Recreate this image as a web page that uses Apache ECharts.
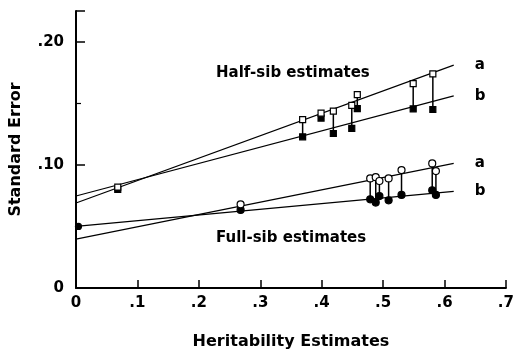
<!DOCTYPE html>
<html>
<head>
<meta charset="utf-8">
<script src="https://cdn.jsdelivr.net/npm/echarts@6/dist/echarts.min.js"></script>
<style>
  html, body { margin: 0; padding: 0; background: #fff; }
  #chart { width: 517px; height: 355px; }
</style>
</head>
<body>
<div id="chart"></div>
<script>
///////////////////////////////////////////////////
// Data
///////////////////////////////////////////////////
var xTicks = ['0', '.1', '.2', '.3', '.4', '.5', '.6', '.7'];
var yTicks = { 0: '0', 10: '.10', 20: '.20' };

// regression lines: [h, SE] at both ends
var halfLineA = [[0, 0.069], [0.615, 0.181]];
var halfLineB = [[0, 0.0747], [0.615, 0.156]];
var fullLineA = [[0, 0.0397], [0.615, 0.1012]];
var fullLineB = [[0, 0.050], [0.615, 0.0785]];

// half-sib estimates: heritability, SE (a), SE (b)
var halfH = [0.068, 0.369, 0.399, 0.419, 0.449, 0.458, 0.549, 0.581];
var halfA = [0.082, 0.1368, 0.142, 0.1436, 0.1484, 0.157, 0.166, 0.174];
var halfB = [0.080, 0.1228, 0.138, 0.1255, 0.1296, 0.1457, 0.1455, 0.145];

// full-sib estimates
var fullH = [0.268, 0.479, 0.488, 0.494, 0.509, 0.53, 0.58, 0.586];
var fullA = [0.068, 0.089, 0.090, 0.0869, 0.089, 0.0958, 0.1012, 0.095];
var fullB = [0.0634, 0.072, 0.0694, 0.0747, 0.0712, 0.0756, 0.0794, 0.0756];
var fullZero = [[0.004, 0.050]];

///////////////////////////////////////////////////
// Helpers
///////////////////////////////////////////////////
function pairs(xs, ys) {
  return xs.map(function (x, i) { return [x, ys[i]]; });
}
function stems(xs, a, b) {
  return xs.map(function (x, i) { return [x, a[i], b[i]]; });
}
var FONT = '"DejaVu Sans", "Liberation Sans", sans-serif';

function fitLine(data, tag) {
  return {
    type: 'line',
    data: data,
    symbol: 'none',
    silent: true,
    z: 1,
    lineStyle: { color: '#000', width: 1.2 },
    endLabel: {
      show: true,
      formatter: tag,
      distance: 21,
      color: '#000',
      fontFamily: FONT,
      fontWeight: 'bold',
      fontSize: 15
    }
  };
}
function stemSeries(data) {
  return {
    type: 'custom',
    data: data,
    z: 2,
    renderItem: function (params, api) {
      var p1 = api.coord([api.value(0), api.value(1)]);
      var p2 = api.coord([api.value(0), api.value(2)]);
      return {
        type: 'line',
        shape: { x1: p1[0], y1: p1[1], x2: p2[0], y2: p2[1] },
        style: { stroke: '#000', lineWidth: 1.5 }
      };
    }
  };
}
function marks(data, symbol, open, size) {
  return {
    type: 'scatter',
    data: data,
    symbol: symbol,
    symbolSize: size,
    z: open ? 4 : 3,
    itemStyle: {
      color: open ? '#fff' : '#000',
      borderColor: '#000',
      borderWidth: 1.2,
      opacity: 1
    }
  };
}

///////////////////////////////////////////////////
// Chart
///////////////////////////////////////////////////
var chart = echarts.init(document.getElementById('chart'), null, { renderer: 'canvas' });

var option = {
  animation: false,
  backgroundColor: '#fff',
  grid: { left: 76, right: 8, top: 11, bottom: 66, containLabel: false },
  xAxis: {
    type: 'value',
    min: 0,
    max: 0.7,
    interval: 0.1,
    name: 'Heritability Estimates',
    nameLocation: 'middle',
    nameGap: 46,
    nameTextStyle: { color: '#000', fontFamily: FONT, fontWeight: 'bold', fontSize: 16 },
    axisLine: { lineStyle: { color: '#000', width: 2 } },
    axisTick: { inside: true, length: 8, lineStyle: { color: '#000', width: 1.5 } },
    splitLine: { show: false },
    axisLabel: {
      color: '#000',
      fontFamily: FONT,
      fontWeight: 'bold',
      fontSize: 15,
      margin: 8,
      formatter: function (v) { return xTicks[Math.round(v * 10)]; }
    }
  },
  yAxis: {
    type: 'value',
    min: 0,
    max: 0.225,
    interval: 0.1,
    name: 'Standard Error',
    nameLocation: 'middle',
    nameGap: 52,
    nameTextStyle: { color: '#000', fontFamily: FONT, fontWeight: 'bold', fontSize: 16 },
    axisLine: { lineStyle: { color: '#000', width: 2 } },
    axisTick: { inside: true, length: 9, lineStyle: { color: '#000', width: 1.5 } },
    minorTick: { show: true, splitNumber: 2, length: 5, lineStyle: { color: '#000', width: 1.2 } },
    splitLine: { show: false },
    axisLabel: {
      color: '#000',
      fontFamily: FONT,
      fontWeight: 'bold',
      fontSize: 15,
      margin: 12,
      formatter: function (v) { return yTicks[Math.round(v * 1000) / 10] || ''; }
    }
  },
  graphic: [
    {
      type: 'text',
      left: 216,
      top: 66,
      style: { text: 'Half-sib estimates', fill: '#000', font: 'bold 15px ' + FONT }
    },
    {
      type: 'text',
      left: 216,
      top: 231,
      style: { text: 'Full-sib estimates', fill: '#000', font: 'bold 15px ' + FONT }
    }
  ],
  series: [
    fitLine(halfLineA, 'a'),
    fitLine(halfLineB, 'b'),
    fitLine(fullLineA, 'a'),
    fitLine(fullLineB, 'b'),
    stemSeries(stems(halfH, halfA, halfB)),
    stemSeries(stems(fullH, fullA, fullB)),
    marks(pairs(halfH, halfB), 'rect', false, 6),
    marks(pairs(halfH, halfA), 'rect', true, 6),
    marks(pairs(fullH, fullB), 'circle', false, 7),
    marks(fullZero, 'circle', false, 6),
    marks(pairs(fullH, fullA), 'circle', true, 7)
  ]
};

chart.setOption(option);
</script>
</body>
</html>
